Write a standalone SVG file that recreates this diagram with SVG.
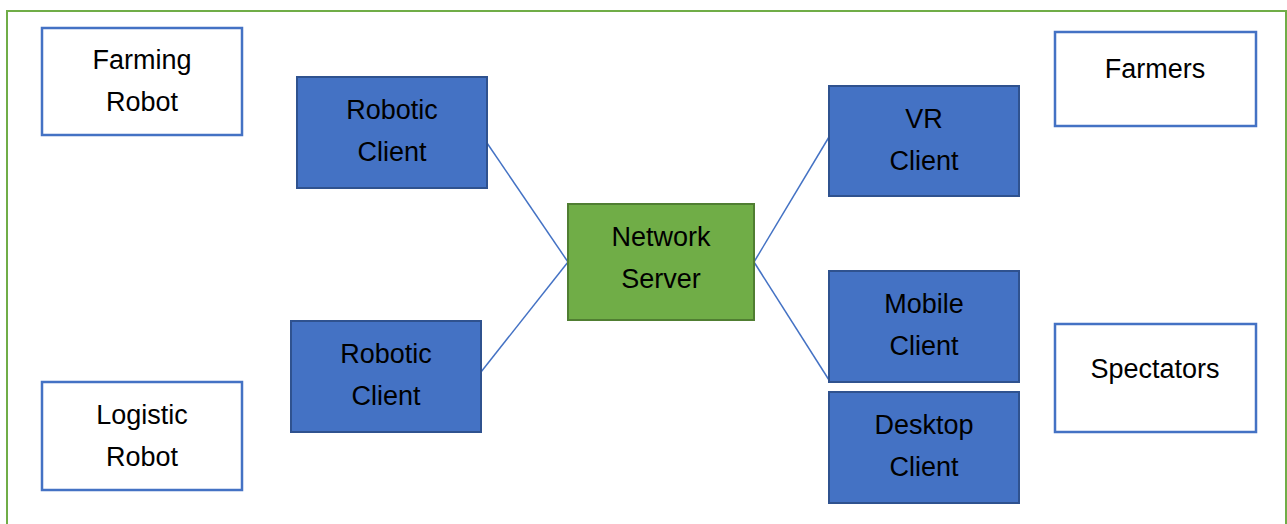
<svg xmlns="http://www.w3.org/2000/svg" width="1287" height="524" viewBox="0 0 1287 524">
<style>
.frame{fill:none;stroke:#70AD47;stroke-width:2}
.white{fill:#FFFFFF;stroke:#4472C4;stroke-width:2.5}
.blue{fill:#4472C4;stroke:#2F528F;stroke-width:2}
.green{fill:#70AD47;stroke:#507E32;stroke-width:2}
.conn{stroke:#4472C4;stroke-width:1.5;fill:none}
text{font-family:"Liberation Sans",Arial,sans-serif;font-size:27px;fill:#000;text-anchor:middle}
</style>
<rect width="1287" height="524" fill="#FFFFFF"/>
<path class="frame" d="M7,530 V11 H1286 V530"/>
<g id="connectors">
<line class="conn" x1="487" y1="143" x2="568" y2="262"/>
<line class="conn" x1="481" y1="372" x2="568" y2="262"/>
<line class="conn" x1="754" y1="262" x2="829" y2="137"/>
<line class="conn" x1="754" y1="262" x2="829" y2="380"/>
</g>
<g id="farming-robot">
<rect class="white" x="42" y="28" width="200" height="107"/>
<text x="142" y="69">Farming</text><text x="142" y="111">Robot</text>
</g>
<g id="logistic-robot">
<rect class="white" x="42" y="382" width="200" height="108"/>
<text x="142" y="424">Logistic</text><text x="142" y="466">Robot</text>
</g>
<g id="robotic-client-1">
<rect class="blue" x="297" y="77" width="190" height="111"/>
<text x="392" y="119">Robotic</text><text x="392" y="161">Client</text>
</g>
<g id="robotic-client-2">
<rect class="blue" x="291" y="321" width="190" height="111"/>
<text x="386" y="363">Robotic</text><text x="386" y="405">Client</text>
</g>
<g id="network-server">
<rect class="green" x="568" y="204" width="186" height="116"/>
<text x="661" y="246">Network</text><text x="661" y="288">Server</text>
</g>
<g id="vr-client">
<rect class="blue" x="829" y="86" width="190" height="110"/>
<text x="924" y="128">VR</text><text x="924" y="170">Client</text>
</g>
<g id="mobile-client">
<rect class="blue" x="829" y="271" width="190" height="111"/>
<text x="924" y="313">Mobile</text><text x="924" y="355">Client</text>
</g>
<g id="desktop-client">
<rect class="blue" x="829" y="392" width="190" height="111"/>
<text x="924" y="434">Desktop</text><text x="924" y="476">Client</text>
</g>
<g id="farmers">
<rect class="white" x="1055" y="32" width="201" height="94"/>
<text x="1155" y="78">Farmers</text>
</g>
<g id="spectators">
<rect class="white" x="1055" y="324" width="201" height="108"/>
<text x="1155" y="378">Spectators</text>
</g>
</svg>
